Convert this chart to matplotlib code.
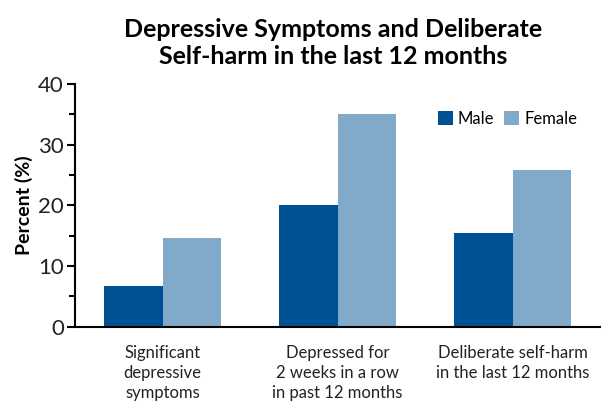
import numpy as np
import matplotlib.pyplot as plt
from matplotlib.ticker import MultipleLocator

categories = ["Significant\ndepressive\nsymptoms",
              "Depressed for\n2 weeks in a row\nin past 12 months",
              "Deliberate self-harm\nin the last 12 months"]
male = [6.8, 20.0, 15.5]
female = [14.7, 35.0, 25.8]

plt.rcParams['font.family'] = ['Lato', 'DejaVu Sans']

fig = plt.figure(figsize=(6.05, 4.05), dpi=100)
ax = fig.add_axes([0.124, 0.193, 0.868, 0.6])

x = np.arange(len(categories))
w = 0.333
ax.bar(x - w / 2, male, w, color='#005193', label='Male')
ax.bar(x + w / 2, female, w, color='#80a9ca', label='Female')

ax.set_xlim(-0.5, 2.5)
ax.set_ylim(0, 40)
ax.yaxis.set_major_locator(MultipleLocator(10))
ax.yaxis.set_minor_locator(MultipleLocator(5))
ax.tick_params(axis='y', which='major', length=6, width=1.5, labelsize=16, pad=2, labelcolor='#222222')
ax.tick_params(axis='y', which='minor', length=4, width=1.5)
ax.set_xticks(x)
ax.set_xticklabels(categories, fontsize=12, color='#222222', linespacing=1.3)
ax.tick_params(axis='x', length=0, pad=13)
for s in ['top', 'right']:
    ax.spines[s].set_visible(False)
ax.spines['left'].set_linewidth(1.5)
ax.spines['bottom'].set_linewidth(1.5)
ax.set_ylabel("Percent (%)", fontsize=14, fontweight='bold', labelpad=4)

ax.legend(loc='upper right', bbox_to_anchor=(0.985, 0.95), frameon=False, fontsize=12,
          ncol=2, handlelength=0.9, handleheight=0.9, handletextpad=0.3, columnspacing=0.6)

fig.suptitle("Depressive Symptoms and Deliberate\nSelf-harm in the last 12 months",
             x=0.55, y=0.955, fontsize=18, fontweight='bold', linespacing=1.2)

plt.savefig("out.png", dpi=100)
